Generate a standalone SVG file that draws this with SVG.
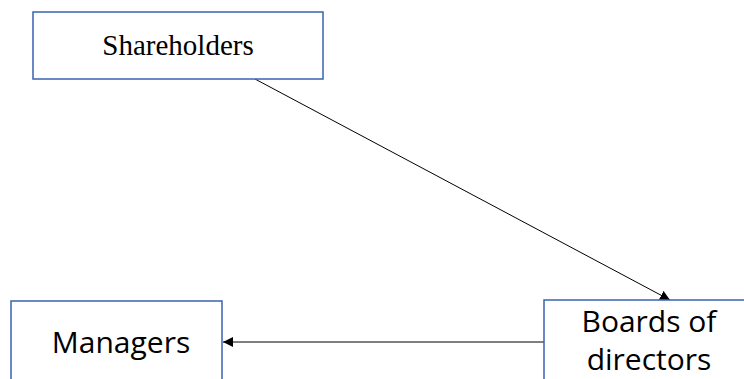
<svg xmlns="http://www.w3.org/2000/svg" width="744" height="379" viewBox="0 0 744 379">
<style>
.box{fill:#fff;stroke:#3A62B0;stroke-width:1.5}
.lbl{font-family:"Open Sans","Liberation Sans",sans-serif;font-size:30px;fill:#000;text-anchor:middle}
.ser{font-family:"Liberation Serif",serif;font-size:29px;fill:#000;text-anchor:middle}
.edge{stroke:#000;stroke-width:1;fill:none}
</style>
<defs>
<marker id="ah" viewBox="0 0 10 10" refX="10" refY="5" markerWidth="10" markerHeight="10" markerUnits="userSpaceOnUse" orient="auto">
<path d="M0,0 L10,5 L0,10 z" fill="#000"/>
</marker>
</defs>
<rect width="744" height="379" fill="#fff"/>
<g id="connectors">
<line class="edge" x1="255" y1="79" x2="670" y2="300" marker-end="url(#ah)"/>
<line class="edge" x1="544" y1="342" x2="223" y2="342" marker-end="url(#ah)"/>
</g>
<g id="shareholders">
<rect class="box" x="33" y="12" width="290" height="67"/>
<text class="ser" x="178" y="55">Shareholders</text>
</g>
<g id="managers">
<rect class="box" x="11" y="301" width="211" height="90"/>
<text class="lbl" x="121" y="353">Managers</text>
</g>
<g id="boards">
<rect class="box" x="544" y="300" width="220" height="90"/>
<text class="lbl" x="649" y="332">Boards of</text>
<text class="lbl" x="649" y="370">directors</text>
</g>
</svg>
